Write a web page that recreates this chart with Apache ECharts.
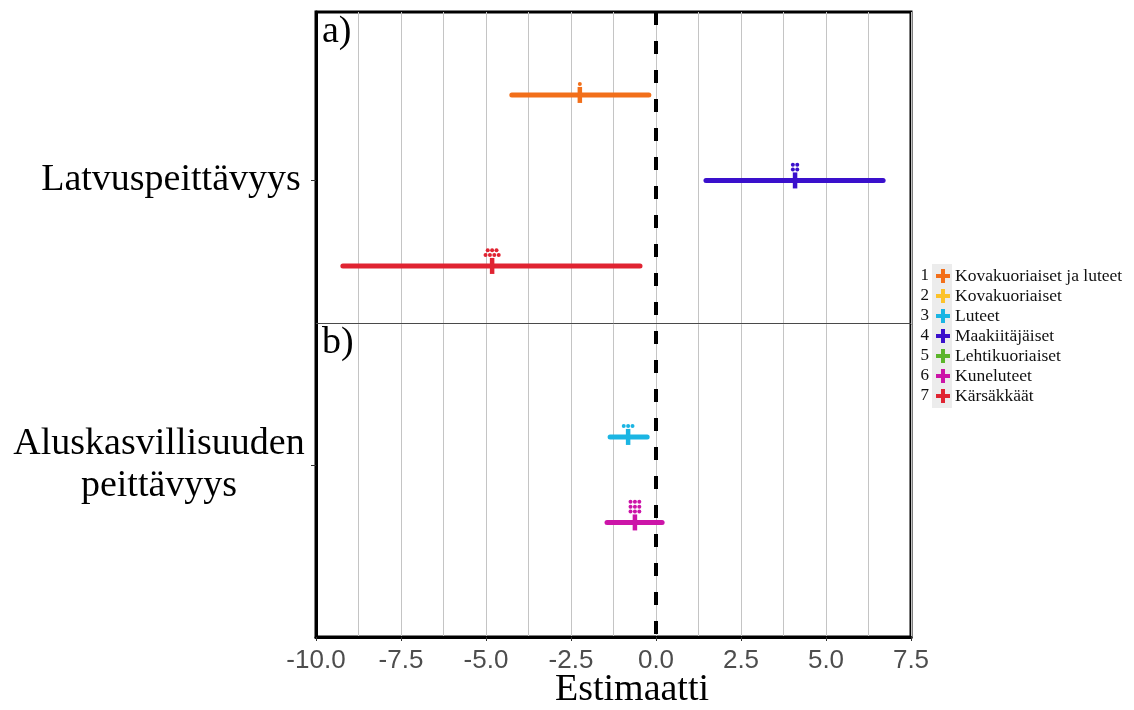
<!DOCTYPE html>
<html>
<head>
<meta charset="utf-8">
<script src="https://cdn.jsdelivr.net/npm/echarts@6/dist/echarts.min.js"></script>
<style>
html,body{margin:0;padding:0;background:#fff;}
#chart{width:1134px;height:710px;}
</style>
</head>
<body>
<div id="chart"></div>
<script>
// ---- data ----
const xTicks = [-10, -7.5, -5, -2.5, 0, 2.5, 5, 7.5];
const speciesNames = ['Kovakuoriaiset ja luteet', 'Kovakuoriaiset', 'Luteet', 'Maakiitäjäiset', 'Lehtikuoriaiset', 'Kuneluteet', 'Kärsäkkäät'];
const panelNames = ['Latvuspeittävyys', 'Aluskasvillisuuden\npeittävyys'];
const panelTags = ['a)', 'b)'];
const xTitle = 'Estimaatti';
// one entry per drawn estimate
const rowPanel   = [0, 0, 0, 1, 1];
const rowSpecies = [1, 4, 7, 3, 6];
const estimate   = [-2.24, 4.09, -4.82, -0.82, -0.62];
const ciLow      = [-4.24, 1.47, -9.21, -1.35, -1.44];
const ciHigh     = [-0.21, 6.68, -0.47, -0.26, 0.18];
const dotCount   = [1, 4, 7, 3, 9];

// ---- style ----
const colors = ['#f26f1a', '#fcc22a', '#1bb5e3', '#3a10cc', '#5bb52a', '#cc15a8', '#e02432'];
const PANEL_STEP = 10;      // slots between panels
const CENTER_SLOT = 4;      // middle species slot of a panel
const DIVIDER = 9;
const DOTS_PER_ROW = {1: 1, 2: 2, 3: 3, 4: 2, 5: 3, 6: 3, 7: 4, 8: 4, 9: 3};
const SERIF = '"Liberation Serif", "DejaVu Serif", serif';
const SANS = '"Liberation Sans", Arial, sans-serif';
const CROSS = 'path://M5,0H9V5H14V9H9V14H5V9H0V5H5Z';

const panelPos = panelNames.map((_, i) => CENTER_SLOT + i * PANEL_STEP);

function renderItem(params, api) {
  const y = api.value(3);
  const pL = api.coord([api.value(1), y]);
  const pH = api.coord([api.value(2), y]);
  const pE = api.coord([api.value(0), y]);
  const color = api.visual('color');
  const children = [
    {type: 'line', shape: {x1: pL[0], y1: pL[1], x2: pH[0], y2: pH[1]},
     style: {stroke: color, lineWidth: 5, lineCap: 'round'}},
    {type: 'line', shape: {x1: pE[0], y1: pE[1] - 8, x2: pE[0], y2: pE[1] + 8},
     style: {stroke: color, lineWidth: 4.5, lineCap: 'butt'}}
  ];
  const n = api.value(4);
  const per = DOTS_PER_ROW[n] || 3;
  const rows = Math.ceil(n / per);
  let left = n;
  for (let r = 0; r < rows; r++) {
    const cnt = Math.min(per, left);
    left -= cnt;
    const yy = pE[1] - 11 - r * 4.8;
    for (let k = 0; k < cnt; k++) {
      const xx = pE[0] + (k - (cnt - 1) / 2) * 4.4;
      children.push({type: 'circle', shape: {cx: xx, cy: yy, r: 2}, style: {fill: color}});
    }
  }
  return {type: 'group', children};
}

const series = speciesNames.map((name, s) => {
  const data = [];
  for (let i = 0; i < estimate.length; i++) {
    if (rowSpecies[i] === s + 1) {
      data.push([estimate[i], ciLow[i], ciHigh[i], rowSpecies[i] + rowPanel[i] * PANEL_STEP, dotCount[i]]);
    }
  }
  return {
    name, type: 'custom', renderItem, data, z: 5,
    itemStyle: {color: colors[s]},
    encode: {x: [0, 1, 2], y: 3}
  };
});

series.push({
  type: 'line', data: [], z: 2, silent: true,
  markLine: {
    silent: true, symbol: 'none', label: {show: false}, animation: false,
    data: [
      {yAxis: DIVIDER, lineStyle: {type: 'solid', width: 1, color: '#4a4a4a'}},
      {xAxis: 0, lineStyle: {type: [13, 16], width: 4, color: '#000'}}
    ]
  }
});

const chart = echarts.init(document.getElementById('chart'));
const option = {
  animation: false,
  backgroundColor: '#fff',
  grid: {left: 316, right: 223, top: 12, bottom: 73, show: true, borderColor: '#000', borderWidth: 3, backgroundColor: 'transparent'},
  xAxis: {
    type: 'value', min: xTicks[0], max: xTicks[xTicks.length - 1], interval: 2.5,
    axisLine: {show: true, onZero: false, lineStyle: {color: '#000', width: 3}},
    axisTick: {show: true, length: 4, lineStyle: {color: '#333'}},
    axisLabel: {color: '#4d4d4d', fontSize: 26, fontFamily: SANS, margin: 11,
      formatter: v => v.toFixed(1)},
    splitLine: {show: true, lineStyle: {color: '#c4c4c4', width: 1}},
    minorTick: {show: false, splitNumber: 2},
    minorSplitLine: {show: true, lineStyle: {color: '#c4c4c4', width: 1}}
  },
  yAxis: {
    type: 'value', inverse: true, min: -1.91, max: 20.02,
    axisLine: {show: true, onZero: false, lineStyle: {color: '#000', width: 3}},
    axisTick: {show: true, length: 5, lineStyle: {color: '#333'}, customValues: panelPos},
    splitLine: {show: false},
    axisLabel: {
      customValues: panelPos, align: 'center', margin: 157,
      color: '#000', fontSize: 38, fontFamily: SERIF, lineHeight: 42,
      formatter: v => {
        const i = panelPos.indexOf(v);
        if (i < 0) return '';
        const lines = panelNames[i].split('\n');
        const tag = i === 0 ? 'p0' : 'p1';
        return lines.map(l => '{' + tag + '|' + l + '}').join('\n');
      },
      rich: {
        p0: {fontSize: 38, fontFamily: SERIF, color: '#000', lineHeight: 42, padding: [0, 0, 0, 24]},
        p1: {fontSize: 38, fontFamily: SERIF, color: '#000', lineHeight: 42}
      }
    }
  },
  legend: {
    data: speciesNames, orient: 'vertical', left: 936, top: 266, padding: 0,
    itemWidth: 14, itemHeight: 14, itemGap: 0, icon: CROSS,
    selectedMode: false,
    textStyle: {fontSize: 17.5, fontFamily: SERIF, color: '#111', lineHeight: 20, padding: 0}
  },
  graphic: [
    {type: 'rect', left: 932, top: 264, shape: {width: 20, height: 144}, style: {fill: '#ececec'}, z: -1},
    ...speciesNames.map((_, i) => ({
      type: 'text', x: 929, y: 276 + i * 20,
      style: {text: String(i + 1), fontSize: 17, fontFamily: SERIF, fill: '#111', textAlign: 'right', textVerticalAlign: 'middle'}
    })),
    ...panelTags.map((t, i) => ({
      type: 'text', x: 322, y: i === 0 ? 13 : 324,
      style: {text: t, fontSize: 38, fontFamily: SERIF, fill: '#000', textAlign: 'left', textVerticalAlign: 'top'}
    })),
    {type: 'text', x: 632, y: 690,
     style: {text: xTitle, fontSize: 38, fontFamily: SERIF, fill: '#000', textAlign: 'center', textVerticalAlign: 'middle'}}
  ],
  series
};
chart.setOption(option);
</script>
</body>
</html>
